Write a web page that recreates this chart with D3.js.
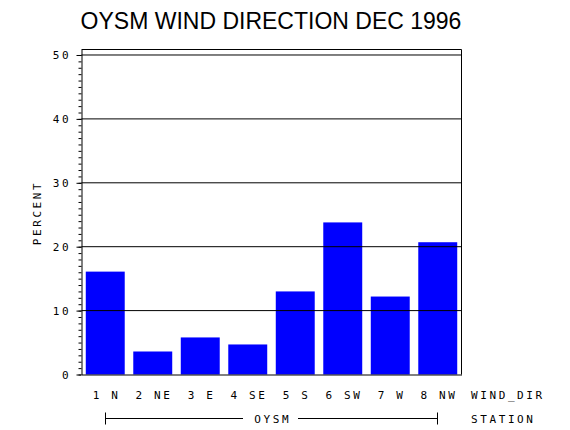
<!DOCTYPE html>
<html>
<head>
<meta charset="utf-8">
<script src="https://cdn.jsdelivr.net/npm/d3@7"></script>
<style>
  html, body { margin: 0; padding: 0; background: #fff; }
  svg { display: block; }
  .mono { font-family: "DejaVu Sans Mono", monospace; font-size: 11px; letter-spacing: 2.6px; fill: #000; }
</style>
</head>
<body>
<svg id="chart" width="570" height="430"></svg>
<script>
// wind direction categories and percent of observations
const categories = ["1 N", "2 NE", "3 E", "4 SE", "5 S", "6 SW", "7 W", "8 NW"];
const percent = [16.1, 3.6, 5.8, 4.7, 13.0, 23.8, 12.2, 20.7];
const yTicks = [0, 10, 20, 30, 40, 50];
const title = "OYSM WIND DIRECTION DEC 1996";
const station = "OYSM";

const width = 570;
const height = 430;
const margin = { top: 49.5, right: 108.5, bottom: 55.5, left: 81.5 };

const svg = d3.select("#chart");

const x = d3.scaleBand()
  .domain(categories)
  .range([margin.left, width - margin.right])
  .paddingInner(0.18)
  .paddingOuter(0.09);

const y = d3.scaleLinear()
  .domain([0, 50.86])
  .range([height - margin.bottom, margin.top]);

// title
svg.append("text")
  .attr("x", 271)
  .attr("y", 29)
  .attr("text-anchor", "middle")
  .style("font-family", "'Liberation Sans', Arial, sans-serif")
  .style("font-size", "23px")
  .text(title);

// bars
svg.append("g")
  .selectAll("rect")
  .data(percent)
  .join("rect")
  .attr("x", (d, i) => x(categories[i]))
  .attr("y", d => y(d))
  .attr("width", x.bandwidth())
  .attr("height", d => y(0) - y(d))
  .attr("fill", "#0000ff");

// gridlines at major ticks
svg.append("g")
  .selectAll("line")
  .data(yTicks.filter(d => d > 0))
  .join("line")
  .attr("x1", margin.left)
  .attr("x2", width - margin.right)
  .attr("y1", d => y(d))
  .attr("y2", d => y(d))
  .attr("stroke", "#000")
  .attr("stroke-width", 1);

// frame: top and right
svg.append("path")
  .attr("d", `M${margin.left},${margin.top}H${width - margin.right}V${height - margin.bottom}`)
  .attr("fill", "none")
  .attr("stroke", "#000");

// minor ticks every 1 unit
svg.append("g")
  .attr("transform", `translate(${margin.left},0)`)
  .call(d3.axisLeft(y).tickValues(d3.range(0, 51, 1)).tickSize(3).tickSizeOuter(0).tickFormat(""))
  .call(g => g.select(".domain").remove());

// y axis with major ticks
const yAxis = svg.append("g")
  .attr("transform", `translate(${margin.left},0)`)
  .call(d3.axisLeft(y).tickValues(yTicks).tickSize(5).tickSizeOuter(0).tickPadding(8));
yAxis.selectAll("text")
  .attr("class", "mono")
  .attr("dx", "2.6")
  .attr("dy", "0.35em")
  .style("font-family", null)
  .style("font-size", null);
yAxis.attr("font-family", null).attr("font-size", null);
svg.selectAll(".tick line, .domain").attr("stroke", "#000");

// y label
svg.append("text")
  .attr("class", "mono")
  .attr("transform", `translate(41,${(margin.top + height - margin.bottom) / 2 + 1}) rotate(-90)`)
  .attr("text-anchor", "middle")
  .text("PERCENT");

// x axis
const xAxis = svg.append("g")
  .attr("transform", `translate(0,${height - margin.bottom})`)
  .call(d3.axisBottom(x).tickSize(0).tickSizeOuter(0).tickPadding(0));
xAxis.attr("font-family", null).attr("font-size", null);
xAxis.selectAll("text")
  .attr("class", "mono")
  .attr("y", 24.5)
  .attr("dy", 0)
  .attr("dx", "1.3");
xAxis.select(".domain").attr("stroke", "#000");

svg.append("text")
  .attr("class", "mono")
  .attr("x", 471)
  .attr("y", 399)
  .text("WIND_DIR");

// station bracket
const bx0 = 105.5, bx1 = 437.5, by = 418.5;
const bracket = svg.append("g").attr("stroke", "#000").attr("fill", "none");
bracket.append("path").attr("d", `M${bx0},${by - 6}V${by + 6}M${bx1},${by - 6}V${by + 6}`);
bracket.append("path").attr("d", `M${bx0},${by}H243M298,${by}H${bx1}`);

svg.append("text")
  .attr("class", "mono")
  .attr("x", (bx0 + bx1) / 2 + 1.3)
  .attr("y", 423)
  .attr("text-anchor", "middle")
  .text(station);

svg.append("text")
  .attr("class", "mono")
  .attr("x", 471)
  .attr("y", 423)
  .text("STATION");
</script>
</body>
</html>
